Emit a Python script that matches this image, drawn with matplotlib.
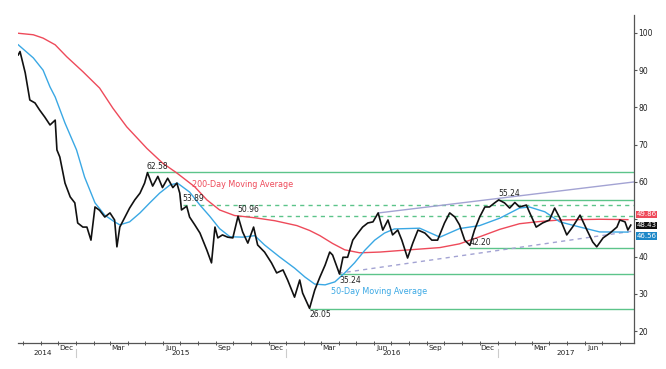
import matplotlib
matplotlib.use("Agg")
import matplotlib.pyplot as plt
import matplotlib.dates as mdates
import matplotlib.transforms as mtransforms
import pandas as pd

# ---------------- data ----------------
price_dates = [
    "2014-09-23", "2014-09-26", "2014-10-05", "2014-10-13", "2014-10-22", "2014-10-30",
    "2014-11-08", "2014-11-17", "2014-11-26", "2014-11-29", "2014-12-04", "2014-12-13",
    "2014-12-22", "2014-12-30", "2015-01-04", "2015-01-13", "2015-01-20", "2015-01-27",
    "2015-02-03", "2015-02-11", "2015-02-20", "2015-03-01", "2015-03-09", "2015-03-13",
    "2015-03-18", "2015-03-27", "2015-04-04", "2015-04-13", "2015-04-22", "2015-04-30",
    "2015-05-05", "2015-05-14", "2015-05-23", "2015-05-31", "2015-06-09", "2015-06-18",
    "2015-06-25", "2015-06-30", "2015-07-03", "2015-07-12", "2015-07-17", "2015-07-26",
    "2015-08-04", "2015-08-16", "2015-08-24", "2015-08-30", "2015-09-04", "2015-09-12",
    "2015-09-21", "2015-09-30", "2015-10-09", "2015-10-17", "2015-10-26", "2015-11-05",
    "2015-11-12", "2015-11-24", "2015-12-06", "2015-12-15", "2015-12-26", "2016-01-03",
    "2016-01-15", "2016-01-24", "2016-01-29", "2016-02-10", "2016-02-19", "2016-02-28",
    "2016-03-08", "2016-03-16", "2016-03-21", "2016-04-02", "2016-04-08", "2016-04-16",
    "2016-04-25", "2016-05-04", "2016-05-12", "2016-05-21", "2016-05-30", "2016-06-08",
    "2016-06-16", "2016-06-25", "2016-07-03", "2016-07-12", "2016-07-19", "2016-07-29",
    "2016-08-07", "2016-08-16", "2016-08-28", "2016-09-09", "2016-09-19", "2016-10-01",
    "2016-10-10", "2016-10-19", "2016-10-27", "2016-11-05", "2016-11-14", "2016-11-22",
    "2016-12-01", "2016-12-10", "2016-12-18", "2016-12-27", "2017-01-03", "2017-01-13",
    "2017-01-22", "2017-01-31", "2017-02-08", "2017-02-20", "2017-02-25", "2017-03-09",
    "2017-03-20", "2017-04-01", "2017-04-10", "2017-04-19", "2017-05-01", "2017-05-11",
    "2017-05-24", "2017-06-05", "2017-06-15", "2017-06-22", "2017-07-03", "2017-07-15",
    "2017-07-27", "2017-08-01", "2017-08-10", "2017-08-15", "2017-08-20",
]
price_values = [
    94.1, 95.0, 89.3, 82.0, 81.2, 79.3,
    77.4, 75.3, 76.6, 68.6, 66.7, 59.7,
    56.0, 54.4, 49.0, 47.9, 47.9, 44.4,
    53.3, 52.4, 50.6, 51.7, 49.8, 42.6,
    47.9, 50.6, 53.0, 55.2, 57.0, 59.7,
    62.5, 58.9, 61.5, 58.5, 61.0, 58.5,
    59.7, 57.0, 52.5, 53.5, 50.6, 48.5,
    46.3, 41.7, 38.3, 47.9, 45.0, 45.8,
    45.2, 45.0, 50.8, 46.6, 43.6, 47.9,
    43.1, 41.2, 38.3, 35.6, 36.4, 33.7,
    29.1, 33.7, 30.2, 26.1, 31.0, 34.5,
    37.7, 41.2, 40.4, 35.3, 39.8, 39.8,
    44.4, 46.3, 47.9, 49.0, 49.3, 51.7,
    47.1, 49.8, 45.8, 47.1, 44.4, 39.6,
    43.6, 47.1, 46.3, 44.4, 44.4, 49.0,
    51.7, 50.6, 48.5, 44.4, 43.0, 47.1,
    50.6, 53.3, 53.3, 54.4, 55.2, 54.4,
    53.0, 54.5, 53.3, 53.8, 52.0, 47.9,
    49.0, 49.8, 53.0, 50.3, 45.8, 47.9,
    51.1, 47.1, 43.9, 42.6, 45.0, 46.3,
    47.9, 49.8, 49.3, 47.1, 48.43,
]

ma200_dates = [
    "2014-09-23", "2014-10-19", "2014-11-05", "2014-11-26", "2014-12-16", "2015-01-13",
    "2015-02-11", "2015-03-06", "2015-03-30", "2015-05-04", "2015-05-31", "2015-06-25",
    "2015-07-26", "2015-08-16", "2015-09-07", "2015-10-03", "2015-11-07", "2015-12-12",
    "2016-01-19", "2016-02-10", "2016-02-28", "2016-03-21", "2016-04-11", "2016-05-07",
    "2016-06-11", "2016-07-15", "2016-08-19", "2016-09-23", "2016-10-27", "2016-12-01",
    "2017-01-05", "2017-02-08", "2017-03-15", "2017-04-19", "2017-05-24", "2017-06-27",
    "2017-08-15",
]
ma200_values = [
    99.9, 99.5, 98.6, 96.8, 93.6, 89.6,
    85.2, 79.8, 74.8, 69.0, 65.1, 62.4,
    58.7, 55.2, 52.5, 51.0, 50.4, 49.6,
    48.3, 47.0, 45.6, 43.5, 41.8, 41.0,
    41.2, 41.6, 42.0, 42.4, 43.4, 45.3,
    47.3, 48.8, 49.4, 49.8, 49.9, 50.0,
    49.9,
]

ma50_dates = [
    "2014-09-23", "2014-10-19", "2014-11-05", "2014-11-17", "2014-11-26", "2014-12-13",
    "2015-01-02", "2015-01-16", "2015-02-03", "2015-02-20", "2015-03-09", "2015-03-18",
    "2015-04-04", "2015-04-22", "2015-05-09", "2015-05-26", "2015-06-13", "2015-06-26",
    "2015-07-17", "2015-08-04", "2015-08-21", "2015-09-07", "2015-09-25", "2015-10-17",
    "2015-11-07", "2015-11-24", "2015-12-20", "2016-01-15", "2016-02-02", "2016-02-19",
    "2016-03-08", "2016-03-25", "2016-04-11", "2016-04-28", "2016-05-16", "2016-06-02",
    "2016-06-19", "2016-07-06", "2016-08-19", "2016-09-23", "2016-10-27", "2016-12-01",
    "2017-01-05", "2017-02-08", "2017-02-25", "2017-03-24", "2017-04-19", "2017-05-24",
    "2017-06-27", "2017-08-15",
]
ma50_values = [
    96.8, 93.3, 90.0, 85.5, 82.8, 75.8,
    68.6, 61.3, 54.4, 51.1, 49.3, 48.5,
    49.3, 51.7, 54.4, 57.0, 59.2, 59.7,
    57.3, 53.8, 50.8, 47.5, 45.3, 45.2,
    45.6, 43.1, 39.9, 36.9, 34.5, 32.6,
    32.4, 33.2, 35.6, 38.3, 41.7, 44.4,
    46.3, 47.4, 47.6, 45.2, 47.5, 48.3,
    50.3, 53.0, 53.3, 52.0, 49.3, 47.9,
    46.6, 46.56,
]

level_values = [62.58, 55.24, 53.89, 50.96, 42.20, 35.24, 26.05]
level_labels = ["62.58", "55.24", "53.89", "50.96", "42.20", "35.24", "26.05"]
level_starts = ["2015-05-04", "2017-01-02", "2015-07-05", "2015-10-08",
                "2016-11-14", "2016-04-02", "2016-02-10"]
level_styles = ["solid", "solid", "dashed", "dashed", "solid", "solid", "solid"]
level_label_above = [True, True, True, True, True, False, False]

upper_trend_dates = ["2016-06-09", "2017-08-25"]
upper_trend_values = [51.7, 60.0]
lower_trend_dates = ["2016-03-31", "2017-08-23"]
lower_trend_values = [35.5, 46.8]

last_ma200 = 49.86
last_price = 48.43
last_ma50 = 46.56

month_label_dates = ["2014-12-15", "2015-03-15", "2015-06-15", "2015-09-15",
                     "2015-12-15", "2016-03-15", "2016-06-15", "2016-09-15",
                     "2016-12-15", "2017-03-15", "2017-06-15"]
month_label_text = ["Dec", "Mar", "Jun", "Sep", "Dec", "Mar", "Jun", "Sep",
                    "Dec", "Mar", "Jun"]
year_text = ["2014", "2015", "2016", "2017"]
y_ticks = [20, 30, 40, 50, 60, 70, 80, 90, 100]
# the "50" label is hidden behind the value boxes in the reference
y_ticklabels = ["20", "30", "40", "", "60", "70", "80", "90", "100"]

# ---------------- styling ----------------
RED = "#ee4a5a"
BLUE = "#3aa8e4"
GREEN = "#5cc48a"
PURPLE = "#a3a3d3"
AX = "#555555"
FS = 5.5

plt.rcParams["font.family"] = ["DejaVu Sans"]

fig = plt.figure(figsize=(6.66, 3.69), dpi=100)
ax = fig.add_axes([18 / 666, 26 / 369, 616 / 666, 328 / 369])

def d(s):
    return pd.to_datetime(pd.Series(s)).dt.to_pydatetime()

xmin = pd.Timestamp("2014-09-22 12:00")
xmax = pd.Timestamp("2017-08-25 14:00")
ax.set_xlim(xmin, xmax)
ax.set_ylim(16.8, 104.8)

# levels
for val, lab, st, ls, above in zip(level_values, level_labels, level_starts,
                                    level_styles, level_label_above):
    x0 = pd.Timestamp(st)
    ax.plot([x0, xmax], [val, val], color=GREEN, lw=1.0,
            linestyle=(0, (3, 3)) if ls == "dashed" else "-", zorder=2)
    if above:
        ax.annotate(lab, (x0, val), xytext=(0, 1), textcoords="offset points",
                    ha="left", va="bottom", fontsize=FS, color="#222222", zorder=6)
    else:
        ax.annotate(lab, (x0, val), xytext=(0, -1), textcoords="offset points",
                    ha="left", va="top", fontsize=FS, color="#222222", zorder=6)

# trend lines
ax.plot(d(upper_trend_dates), upper_trend_values, color=PURPLE, lw=1.0, zorder=2)
ax.plot(d(lower_trend_dates), lower_trend_values, color=PURPLE, lw=1.0,
        linestyle=(0, (3, 3)), zorder=2)

# moving averages
ax.plot(d(ma200_dates), ma200_values, color=RED, lw=1.0, zorder=3)
ax.plot(d(ma50_dates), ma50_values, color=BLUE, lw=1.0, zorder=3)

# price
ax.plot(d(price_dates), price_values, color="#111111", lw=1.2, zorder=4)

# MA labels
ax.text(pd.Timestamp("2015-07-22"), 59.2, "200-Day Moving Average", color=RED,
        fontsize=FS + 0.3, ha="left", va="center", zorder=6)
ax.text(pd.Timestamp("2016-03-19"), 30.7, "50-Day Moving Average", color=BLUE,
        fontsize=FS + 0.3, ha="left", va="center", zorder=6)

# spines
for s in ["top", "left"]:
    ax.spines[s].set_visible(False)
for s in ["right", "bottom"]:
    ax.spines[s].set_color(AX)
    ax.spines[s].set_linewidth(0.9)

# y axis on right
ax.yaxis.tick_right()
ax.set_yticks(y_ticks)
ax.set_yticklabels(y_ticklabels)
ax.tick_params(axis="y", direction="out", length=2, width=0.8, color=AX,
               labelsize=FS, pad=1, labelcolor="#222222")

# x axis: minor ticks at months, labels at mid-month
ax.xaxis.set_minor_locator(mdates.MonthLocator())
ax.set_xticks(d(month_label_dates))
ax.set_xticklabels(month_label_text)
ax.tick_params(axis="x", which="major", length=0, labelsize=FS - 0.3, pad=1.5,
               labelcolor="#222222")
ax.tick_params(axis="x", which="minor", direction="inout", length=3, width=0.7,
               color=AX)

# year labels and separators
trans = mtransforms.blended_transform_factory(ax.transData, ax.transAxes)
year_bounds = [xmin, pd.Timestamp("2015-01-01"), pd.Timestamp("2016-01-01"),
               pd.Timestamp("2017-01-01"), xmax]
for i, yt in enumerate(year_text):
    a, b = year_bounds[i], year_bounds[i + 1]
    mid = a + (b - a) / 2
    if i == 0:
        mid = mid - pd.Timedelta(days=7)
    ax.text(mid, -0.031, yt, transform=trans, ha="center", va="center",
            fontsize=FS - 0.3, color="#222222")
for bnd in year_bounds[1:4]:
    ax.plot([bnd, bnd], [-0.018, -0.042], transform=trans, color="#cccccc",
            lw=0.8, clip_on=False)

# right-hand value boxes (nudged apart so they do not collide)
ytrans = mtransforms.blended_transform_factory(ax.transAxes, ax.transData)
box_specs = [(last_ma200, RED, 4.0), (last_price, "#111111", 0.0),
             (last_ma50, "#1e88c8", -2.8)]
for val, fc, dy in box_specs:
    ax.annotate(f"{val:.2f}", (1.004, val), xycoords=ytrans,
                xytext=(0, dy), textcoords="offset points",
                ha="left", va="center", fontsize=5.0, color="white",
                zorder=10, annotation_clip=False,
                bbox=dict(boxstyle="square,pad=0.08", fc=fc, ec="none"))

fig.savefig("out.png", dpi=100)
